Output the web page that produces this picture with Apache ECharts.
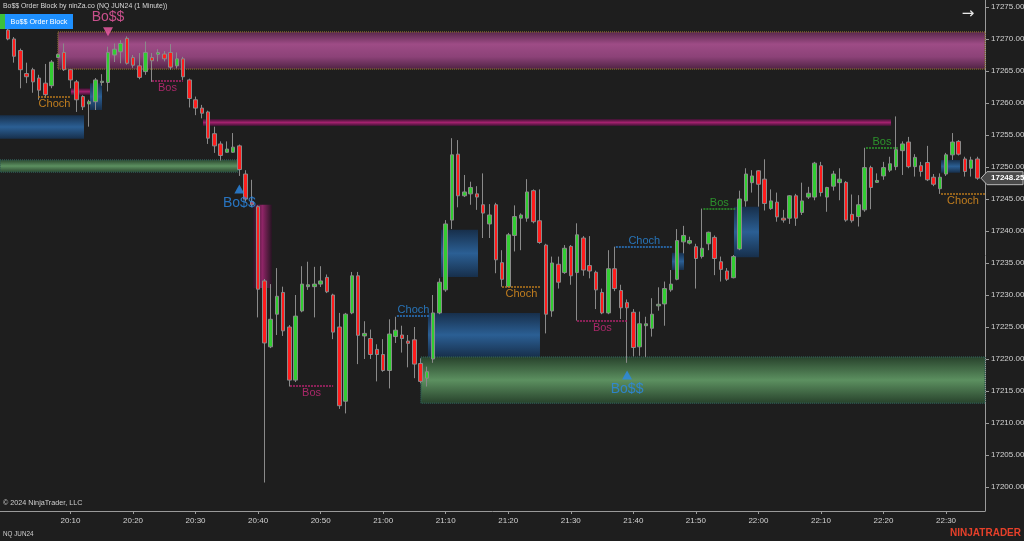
<!DOCTYPE html>
<html><head><meta charset="utf-8">
<script src="https://cdn.jsdelivr.net/npm/echarts@6/dist/echarts.min.js"></script>
<style>html,body{margin:0;padding:0;background:#1e1e1e;}#c{width:1024px;height:541px;}</style>
</head><body><div id="c"></div>
<script>
// ---- candle data: 1-minute bars, index 0 = 20:00 ----
const openP = [17271.4,17270.0,17268.2,17264.6,17265.2,17263.9,17263.1,17262.7,17267.1,17267.9,
17265.2,17263.3,17261.0,17259.85,17260.2,17263.2,17263.2,17267.5,17268.0,17270.1,
17267.1,17265.8,17264.9,17267.1,17267.6,17267.65,17267.9,17265.8,17266.9,17263.6,
17260.5,17259.2,17258.6,17255.2,17253.6,17252.3,17252.3,17253.3,17248.9,17244.6,
17243.8,17232.2,17221.9,17227.0,17230.4,17225.0,17216.7,17227.5,17231.3,17231.3,
17231.7,17232.75,17230.0,17225.0,17213.4,17227.2,17233.0,17223.6,17223.2,17221.5,
17220.7,17218.2,17223.5,17223.75,17222.8,17223.0,17219.3,17217.0,17220.0,17227.2,
17230.8,17241.7,17252.0,17245.5,17245.8,17245.8,17244.1,17241.1,17244.1,17235.05,
17231.3,17239.3,17242.0,17242.0,17246.3,17241.6,17237.8,17227.5,17234.8,17233.5,
17237.6,17233.5,17238.9,17234.6,17233.55,17230.4,17227.2,17234.1,17230.7,17228.8,
17227.3,17221.9,17225.2,17224.8,17228.3,17228.6,17230.8,17232.45,17238.3,17238.1,
17237.55,17236.0,17238.0,17239.0,17235.2,17233.75,17232.7,17237.2,17244.7,17247.55,
17249.4,17248.1,17243.5,17244.5,17242.0,17242.0,17245.5,17242.9,17245.3,17245.3,
17250.2,17245.3,17247.0,17247.55,17247.6,17242.6,17242.25,17243.3,17249.9,17247.6,
17248.6,17249.5,17250.05,17252.55,17253.9,17250.05,17250.2,17250.7,17248.4,17246.6,
17248.9,17251.9,17254.0,17251.25,17249.8,17251.25];
const closeP = [17270.0,17267.3,17265.2,17264.1,17263.3,17262.0,17261.3,17266.4,17267.6,17265.2,
17263.6,17260.5,17259.4,17260.2,17263.6,17263.4,17267.9,17268.4,17269.3,17266.2,
17265.9,17264.0,17267.9,17266.6,17267.9,17266.9,17265.6,17266.9,17264.1,17260.7,
17259.2,17258.4,17254.5,17253.3,17251.8,17252.8,17253.1,17249.6,17245.0,17244.1,
17230.9,17222.5,17226.2,17229.8,17224.4,17216.7,17226.7,17231.7,17231.6,17231.7,
17232.2,17230.5,17224.2,17212.7,17227.0,17233.0,17223.7,17224.0,17220.7,17220.7,
17218.2,17223.9,17224.5,17223.2,17222.45,17219.2,17216.5,17218.0,17227.2,17232.0,
17241.1,17251.9,17245.5,17246.1,17246.8,17245.3,17242.8,17242.5,17235.5,17232.45,
17239.4,17242.25,17242.5,17246.1,17241.45,17238.2,17227.0,17235.0,17232.0,17237.3,
17233.0,17239.4,17233.9,17233.75,17230.8,17227.2,17234.1,17231.0,17228.0,17228.0,
17221.8,17225.5,17225.5,17227.0,17228.55,17231.0,17231.7,17238.5,17239.3,17238.5,
17235.7,17237.3,17239.8,17235.7,17234.0,17232.45,17236.0,17245.0,17248.9,17248.6,
17247.3,17244.3,17244.7,17242.2,17241.7,17245.5,17242.0,17244.7,17245.9,17250.6,
17246.0,17246.8,17248.9,17248.1,17241.7,17241.6,17244.1,17249.9,17246.8,17247.9,
17249.9,17250.5,17252.7,17253.6,17250.05,17251.5,17249.3,17248.0,17247.3,17248.4,
17251.9,17253.9,17252.0,17249.3,17251.1,17248.25];
const highP = [17273.0,17270.3,17268.5,17266.3,17265.5,17264.4,17266.1,17266.7,17267.7,17269.3,
17265.3,17263.6,17261.2,17260.5,17263.9,17264.5,17268.8,17269.3,17269.8,17270.4,
17267.5,17267.8,17269.6,17267.8,17268.4,17268.1,17269.2,17267.9,17267.2,17263.8,
17261.0,17259.7,17258.8,17256.3,17254.0,17254.0,17255.3,17253.5,17249.5,17248.0,
17244.0,17232.5,17231.7,17234.2,17231.3,17225.3,17230.0,17234.5,17235.2,17234.4,
17234.5,17233.2,17230.2,17227.2,17227.2,17233.6,17233.6,17225.9,17224.6,17222.3,
17223.1,17226.2,17226.6,17225.2,17223.75,17225.0,17220.1,17218.8,17230.0,17232.6,
17241.7,17254.5,17254.2,17248.75,17247.7,17247.0,17249.0,17244.2,17244.4,17237.0,
17239.7,17244.0,17242.75,17248.1,17246.5,17246.5,17238.0,17236.0,17236.0,17237.8,
17237.8,17241.2,17239.2,17239.2,17233.8,17231.0,17237.0,17237.55,17231.6,17229.3,
17227.8,17227.4,17226.6,17229.5,17231.2,17232.1,17233.9,17240.3,17240.8,17239.1,
17238.0,17243.5,17239.9,17239.3,17236.0,17234.2,17236.25,17246.3,17249.8,17249.5,
17249.5,17251.2,17246.5,17246.0,17243.3,17245.6,17245.8,17247.55,17246.9,17250.8,
17250.8,17246.9,17249.4,17249.8,17247.8,17245.7,17245.6,17253.0,17250.2,17249.0,
17250.8,17251.6,17257.9,17254.0,17254.7,17252.0,17250.8,17253.3,17248.9,17249.0,
17252.2,17255.3,17254.2,17251.6,17251.6,17251.6];
const lowP = [17269.8,17266.3,17262.3,17263.1,17261.6,17260.5,17260.8,17262.3,17267.0,17265.0,
17262.3,17258.6,17258.9,17256.3,17258.9,17262.7,17261.8,17266.4,17266.2,17266.0,
17265.5,17263.7,17264.4,17263.3,17266.5,17266.5,17265.2,17265.4,17263.6,17259.3,
17258.1,17257.6,17253.6,17252.2,17251.0,17252.2,17252.2,17248.6,17244.6,17243.8,
17226.5,17200.7,17221.7,17223.75,17223.6,17215.7,17216.4,17227.3,17230.8,17226.5,
17231.25,17230.3,17223.1,17212.2,17211.5,17227.0,17219.2,17220.0,17220.0,17216.5,
17218.0,17215.4,17222.5,17221.0,17218.7,17217.0,17216.2,17215.7,17219.4,17227.0,
17230.5,17240.3,17243.7,17245.3,17244.1,17243.3,17238.9,17238.9,17233.4,17231.3,
17231.3,17236.8,17237.0,17241.45,17241.2,17238.0,17224.0,17226.6,17231.0,17233.3,
17231.6,17226.0,17233.0,17232.6,17227.8,17227.0,17227.0,17230.6,17226.25,17219.4,
17220.4,17220.5,17220.3,17223.5,17227.55,17225.2,17230.5,17232.3,17236.5,17237.9,
17231.0,17235.7,17237.0,17233.1,17232.1,17232.2,17232.6,17237.0,17243.8,17246.0,
17243.8,17243.2,17243.3,17241.45,17241.3,17241.1,17240.8,17242.5,17245.0,17244.8,
17245.4,17243.0,17246.3,17244.8,17241.45,17241.3,17240.7,17243.0,17243.4,17247.5,
17248.0,17249.2,17249.5,17248.75,17249.8,17248.5,17248.5,17247.8,17247.0,17245.8,
17248.6,17251.1,17251.8,17248.5,17248.5,17248.0];

// ---- axis ticks ----
const timeTicks = [10,20,30,40,50,60,70,80,90,100,110,120,130,140,150]; // minutes after 20:00
const priceTicks = [17200,17205,17210,17215,17220,17225,17230,17235,17240,17245,17250,17255,17260,17265,17270,17275];
const lastPrice = 17248.25;

// ---- order-block zones (x in minutes after 20:00, prices) ----
const zoneX1 = [8.0, -1.27, -1.27, 10.08, 13.12, 31.19, 39.18, 69.24, 67.16, 66.04, 106.18, 116.09, 149.2];
const zoneX2 = [156.23, 12.16, 36.78, 13.12, 15.04, 141.2, 42.22, 75.16, 85.07, 156.23, 108.1, 120.09, 152.23];
const zoneHi = [17271.1, 17258.1, 17251.1, 17262.3, 17263.1, 17257.5, 17244.1, 17240.2, 17227.2, 17220.3, 17236.6, 17243.8, 17251.1];
const zoneLo = [17265.3, 17254.4, 17249.2, 17261.25, 17258.9, 17256.4, 17231.1, 17232.8, 17220.3, 17213.1, 17233.9, 17235.9, 17249.1];
const zoneKind = ['pink','blue','green','magenta','blue','magenta','magentaV','blue','blue','green','blue','blue','blue'];

// ---- structure levels (Bos / Choch) ----
const levelX1 = [4.8, 23.03, 45.1, 62.2, 79.0, 91.0, 97.2, 111.2, 137.2, 149.2];
const levelX2 = [10.08, 28.0, 52.0, 67.5, 85.2, 99.1, 106.3, 116.3, 142.3, 156.23];
const levelPrice = [17260.94, 17263.44, 17215.78, 17226.72, 17231.25, 17225.94, 17237.5, 17243.44, 17252.97, 17245.78];
const levelText = ['Choch','Bos','Bos','Choch','Choch','Bos','Choch','Bos','Bos','Choch'];
const levelKind = ['orange','pink','pink','blue','orange','pink','blue','green','green','orange'];

// ---- Bo$$ signals ----
const signalIdx = [16, 37, 99];
const signalPrice = [17271.14, 17246.56, 17217.5];
const signalKind = ['sell','buy','buy'];
const signalText = ['Bo$$','Bo$$','Bo$$'];

// ---------------- styles ----------------
const X_MIN = -1.27, X_MAX = 156.23, Y_MIN = 17196.25, Y_MAX = 17276.09;
const FONT = "'Liberation Sans',Arial,sans-serif";
function grad(horizontal, cols){
  return {type:'linear', x:0, y:0, x2: horizontal?1:0, y2: horizontal?0:1,
    colorStops: cols.map((c,i)=>({offset:i/(cols.length-1), color:c}))};
}
const zoneStyle = {
  pink: {color: grad(false,['#57264a','#9e4c86','#8c4278','#4e2242']), borderColor:'#7d6331', borderType:'dotted', borderWidth:1},
  blue: {color: grad(false,['#172f4b','#2b5f94','#172f4b'])},
  green:{color: grad(false,['#27412b','#5c9060','#27412b']), borderColor:'#2f5a52', borderType:'dotted', borderWidth:1},
  magenta:{color: grad(false,['#3a1230','#a3216e','#3a1230'])},
  magentaV:{color: grad(true,['#261522','#8e2466','#261522'])}
};
const levelColor = {orange:'#e8951f', pink:'#cc2a7c', blue:'#2b88dc', green:'#2fae2f'};
const levelLineColor = {orange:'#b8781c', pink:'#b0246c', blue:'#2a78c8', green:'#2a9a2a'};
const levelBelow = {orange:true, pink:true, blue:false, green:false};
const signalColor = {sell:'#f25ca8', buy:'#2a8ae8'};

function fmtTime(v){ const m = 20*60 + Math.round(v); return String(Math.floor(m/60)).padStart(2,'0')+':'+String(m%60).padStart(2,'0'); }

const candleData = openP.map((o,i)=>[i, o, closeP[i], lowP[i], highP[i]]);
const areaData = zoneX1.map((x1,i)=>[
  {coord:[x1, zoneHi[i]], itemStyle: zoneStyle[zoneKind[i]]},
  {coord:[zoneX2[i], zoneLo[i]]}
]);
const lineData = levelX1.map((x1,i)=>[
  {coord:[x1, levelPrice[i]], lineStyle:{color:levelLineColor[levelKind[i]], type:[2,1], width:1.5}},
  {coord:[levelX2[i], levelPrice[i]]}
]);
const levelLabelData = levelX1.map((x1,i)=>({
  value:[(x1+levelX2[i])/2, levelPrice[i]],
  label:{show:true, formatter:levelText[i], position: levelBelow[levelKind[i]]?'bottom':'top',
    distance: levelBelow[levelKind[i]]?1:0, color:levelColor[levelKind[i]], fontSize:11, fontFamily:FONT}
}));
const signalData = signalIdx.map((x,i)=>({
  value:[x, signalPrice[i]],
  symbolRotate: signalKind[i]==='sell'?180:0,
  itemStyle:{color:signalColor[signalKind[i]]},
  label:{show:true, formatter:signalText[i], position: signalKind[i]==='sell'?'top':'bottom', distance:3,
    color:signalColor[signalKind[i]], fontSize:14, fontFamily:FONT}
}));

const chart = echarts.init(document.getElementById('c'), null, {renderer:'canvas'});
chart.setOption({
  backgroundColor:'#1e1e1e',
  animation:false,
  grid:{left:0, right:39, top:0, bottom:30, show:false, containLabel:false, outerBoundsMode:'none'},
  xAxis:{type:'value', min:X_MIN, max:X_MAX, splitLine:{show:false},
    axisLine:{show:true, onZero:false, lineStyle:{color:'#9a9a9a', width:1}},
    axisTick:{show:true, length:3, customValues:timeTicks, lineStyle:{color:'#9a9a9a'}},
    axisLabel:{customValues:timeTicks, formatter:fmtTime, color:'#d2d2d2', fontSize:8, fontFamily:FONT, margin:6}},
  yAxis:{type:'value', position:'right', min:Y_MIN, max:Y_MAX, scale:true, splitLine:{show:false},
    axisLine:{show:true, onZero:false, lineStyle:{color:'#9a9a9a', width:1}},
    axisTick:{show:true, length:4, customValues:priceTicks, lineStyle:{color:'#9a9a9a'}},
    axisLabel:{customValues:priceTicks, formatter:v=>v.toFixed(2), color:'#d2d2d2', fontSize:8, fontFamily:FONT, margin:6}},
  series:[
    {type:'candlestick', z:2, silent:true,
      dimensions:['t','open','close','lowest','highest'],
      encode:{x:'t', y:['open','close','lowest','highest']},
      data:candleData, barWidth:4,
      itemStyle:{color:'#32cd32', color0:'#ff1c1c', borderColor:'#8a8a8a', borderColor0:'#8a8a8a', borderWidth:1},
      markArea:{silent:true, z:1, label:{show:false}, data:areaData},
      markLine:{silent:true, symbol:['none','none'], label:{show:false}, data:lineData}
    },
    {type:'scatter', z:6, silent:true, symbolSize:0.1, itemStyle:{color:'rgba(0,0,0,0)'}, data:levelLabelData},
    {type:'scatter', z:7, silent:true, symbol:'triangle', symbolSize:[10,9], data:signalData}
  ]
});

const yTag = chart.convertToPixel({yAxisIndex:0}, lastPrice);
chart.setOption({graphic:[
  {type:'text', x:3, y:6, z:100, scaleX:0.86, style:{text:'Bo$$ Order Block by ninZa.co (NQ JUN24 (1 Minute))', fill:'#d8d8d8', font:'8px '+FONT, verticalAlign:'middle'}},
  {type:'rect', z:100, shape:{x:0,y:14,width:5,height:15}, style:{fill:'#3cc03c'}},
  {type:'rect', z:100, shape:{x:5,y:14,width:68,height:15}, style:{fill:'#1e90ff'}},
  {type:'text', x:39, y:21.5, z:101, scaleX:0.9, style:{text:'Bo$$ Order Block', fill:'#ffffff', font:'8px '+FONT, align:'center', verticalAlign:'middle'}},
  {type:'text', x:968, y:14, z:100, style:{text:'\u2192', fill:'#e8e8e8', font:'15px "DejaVu Sans",sans-serif', align:'center', verticalAlign:'middle'}},
  {type:'text', x:3, y:503, z:100, scaleX:0.9, style:{text:'\u00a9 2024 NinjaTrader, LLC', fill:'#cfcfcf', font:'8px '+FONT, verticalAlign:'middle'}},
  {type:'text', x:3, y:534, z:100, scaleX:0.9, style:{text:'NQ JUN24', fill:'#cfcfcf', font:'7px '+FONT, verticalAlign:'middle'}},
  {type:'text', x:1021, y:533, z:100, style:{text:'NINJATRADER', fill:'#e6402a', font:'bold 10px '+FONT, align:'right', verticalAlign:'middle'}},
  {type:'polygon', z:100, shape:{points:[[981,yTag],[987,yTag-6.5],[1023,yTag-6.5],[1023,yTag+6.5],[987,yTag+6.5]]}, style:{fill:'#4a4a4a', stroke:'#b8b8b8', lineWidth:1}},
  {type:'text', x:991, y:yTag, z:101, style:{text:lastPrice.toFixed(2), fill:'#ffffff', font:'bold 8px '+FONT, verticalAlign:'middle'}}
]});
</script></body></html>
